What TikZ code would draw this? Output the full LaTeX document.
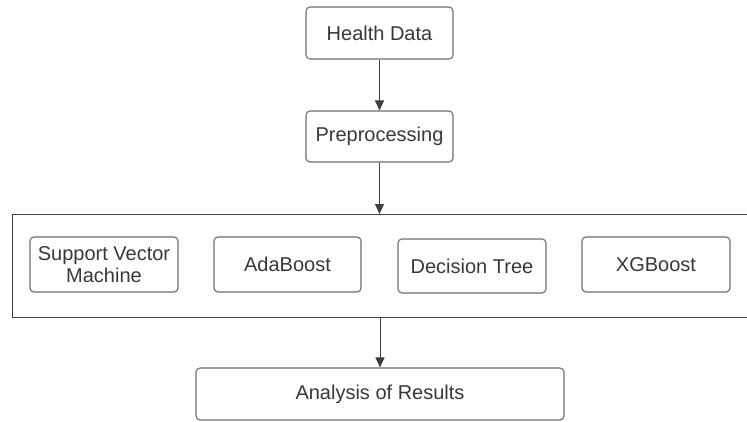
\documentclass[tikz,border=0pt]{standalone}
\usepackage{fontspec}
\setmainfont{Liberation Sans}
\usetikzlibrary{arrows.meta}
\definecolor{boxline}{HTML}{6E6E6E}
\definecolor{arrowc}{HTML}{3B3F48}
\definecolor{txt}{HTML}{383838}
\begin{document}
\begin{tikzpicture}[x=1pt,y=-1pt,
  box/.style={draw=boxline, line width=1.1pt, rounded corners=4pt, fill=white,
    text=txt, font=\fontsize{20}{22}\selectfont, align=center, inner sep=0pt},
  flow/.style={draw=arrowc, line width=1pt, -{Triangle[length=10pt,width=9pt]}}]
\clip (0,0) rectangle (747,421);
\fill[white] (0,0) rectangle (747,421);
\node[draw=arrowc, line width=1.1pt, anchor=north west, minimum width=760pt, minimum height=103pt, inner sep=0pt] (models) at (12,214) {};
\node[box, minimum width=147pt, minimum height=52pt] (hd) at (379.5,33) {Health Data};
\node[box, minimum width=147pt, minimum height=51pt] (pre) at (379.5,136.5) {Preprocessing};
\node[box, minimum width=148pt, minimum height=55pt] (svm) at (104,264.5) {Support Vector\\Machine};
\node[box, minimum width=147pt, minimum height=55pt] (ada) at (287.5,264.5) {AdaBoost};
\node[box, minimum width=148pt, minimum height=54pt] (dt) at (472,266) {Decision Tree};
\node[box, minimum width=148pt, minimum height=55pt] (xgb) at (656,264.5) {XGBoost};
\node[box, minimum width=368pt, minimum height=52pt] (ana) at (380,394) {Analysis of Results};
\draw[flow] (hd) -- (pre);
\draw[flow] (pre) -- (pre |- models.north);
\draw[flow] (models.south -| ana) -- (ana);
\end{tikzpicture}
\end{document}
